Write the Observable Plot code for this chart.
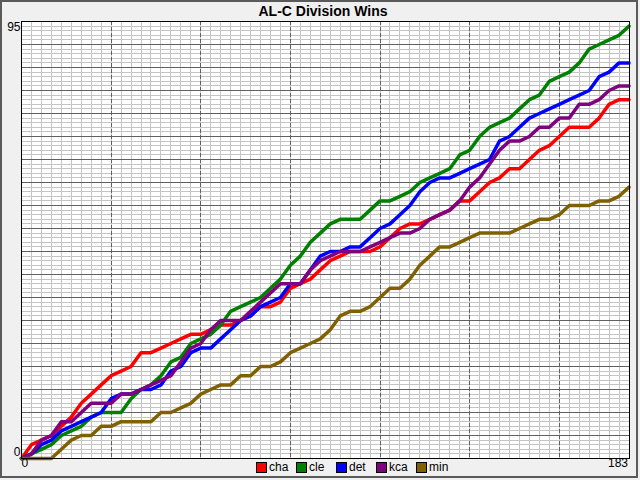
<!DOCTYPE html>
<html><head><meta charset="utf-8">
<script src="https://cdn.jsdelivr.net/npm/d3@7"></script>
<script src="https://cdn.jsdelivr.net/npm/@observablehq/plot@0.6"></script>
<style>
html,body{margin:0;padding:0;background:#f0f0f0;}
#wrap{position:relative;width:640px;height:480px;overflow:hidden;background:#f0f0f0;font-family:"Liberation Sans",Arial,sans-serif;}
#frame{position:absolute;left:0;top:0;width:638px;height:478px;box-sizing:border-box;border:2px solid #5a5a5a;}
#chart{position:absolute;left:0;top:0;}
#title{position:absolute;top:3px;left:0;width:646px;text-align:center;font-weight:bold;font-size:14px;color:#000;}
#legend{position:absolute;top:461px;left:256px;display:flex;font-size:12px;color:#000;}
.item{width:40px;display:flex;align-items:center;height:12px;}
.sw{width:9px;height:9px;border:1px solid #000;margin-right:2px;flex:none;}
</style></head>
<body><div id="wrap"><div id="frame"></div><div id="chart"></div><div id="title">AL-C Division Wins</div><div id="legend"></div></div>
<script>
const days = [0,3,6,9,12,15,18,21,24,27,30,33,36,39,42,45,48,51,54,57,60,63,66,69,72,75,78,81,84,87,90,93,96,99,102,105,108,111,114,117,120,123,126,129,132,135,138,141,144,147,150,153,156,159,162,165,168,171,174,177,180,183];
const teams = ["cha","cle","det","kca","min"];
const colors = ["#ff0000","#008000","#0000ff","#800080","#806000"];
const cha = [0,3,4,5,7,9,12,14,16,18, 19,20,23,23,24,25,26,27,27,28, 29,29,30,31,33,33,34,37,38,39, 41,43,44,45,45,45,46,48,50,51, 51,52,53,54,56,56,58,60,61,63, 63,65,67,68,70,72,72,72,74,77, 78,78];
const cle = [0,1,2,3,5,6,7,9,10,10, 10,13,15,16,18,21,22,25,26,27, 29,32,33,34,35,37,39,42,44,47, 49,51,52,52,52,54,56,56,57,58, 60,61,62,63,66,67,70,72,73,74, 76,78,79,82,83,84,86,89,90,91, 92,94];
const det = [0,1,3,4,6,7,8,9,10,13, 14,14,15,15,16,19,20,23,24,24, 26,28,30,31,33,34,35,38,38,41, 44,45,45,46,46,48,50,51,53,55, 58,60,61,61,62,63,64,65,69,70, 72,74,75,76,77,78,79,80,83,84, 86,86];
const kca = [0,1,4,5,8,8,10,12,12,12, 14,14,15,16,17,18,21,24,25,28, 30,30,30,32,34,36,38,38,38,41, 43,44,45,45,45,46,47,48,49,49, 50,52,53,54,56,59,61,64,67,69, 69,70,72,72,74,74,77,77,78,80, 81,81];
const min = [0,0,0,0,2,4,5,5,7,7, 8,8,8,8,10,10,11,12,14,15, 16,16,18,18,20,20,21,23,24,25, 26,28,31,32,32,33,35,37,37,39, 42,44,46,46,47,48,49,49,49,49, 50,51,52,52,53,55,55,55,56,56, 57,59];
const yTickLabels = [0,95];
const xTickLabels = [0,183];
const xMajor = [27,54,81,108,135,162];
const yMajor = [5,10,15,20,25,30,35,40,45,50,55,60,65,70,75,80,85,90];
const yMinor = d3.range(1,95);

const series = {cha, cle, det, kca, min};
const rows = teams.flatMap(t => days.map((d,i) => ({team:t, day:d, wins:series[t][i]})));

const chart = Plot.plot({
  width: 640, height: 480,
  marginLeft: 21, marginRight: 11.5, marginTop: 21, marginBottom: 22,
  style: {background: "transparent", fontFamily: "'Liberation Sans', Arial, sans-serif", fontSize: "12px", overflow: "visible"},
  x: {domain: [0,183], axis: null},
  y: {domain: [0,95], axis: null},
  color: {domain: teams, range: colors},
  marks: [
    Plot.frame({fill: "white", stroke: "none"}),
    Plot.ruleX(days, {stroke: "#c4c4c4", strokeWidth: 1, shapeRendering: "crispEdges"}),
    Plot.ruleY(yMinor, {stroke: "#c4c4c4", strokeWidth: 1, shapeRendering: "crispEdges"}),
    Plot.ruleY(yMajor, {stroke: "#606060", strokeWidth: 1, shapeRendering: "crispEdges"}),
    Plot.ruleX(xMajor, {stroke: "#606060", strokeWidth: 1, strokeDasharray: "4,2", shapeRendering: "crispEdges"}),
    Plot.line(rows, {x: "day", y: "wins", z: "team", stroke: "team", strokeWidth: 3.5, strokeLinejoin: "round", strokeLinecap: "round"}),
    Plot.frame({stroke: "#000", strokeWidth: 1, shapeRendering: "crispEdges"}),
    Plot.text([yTickLabels[1]], {y: d => d, frameAnchor: "left", textAnchor: "end", dx: -1, dy: 6, fill: "#000"}),
    Plot.text([yTickLabels[0]], {y: d => d, frameAnchor: "left", textAnchor: "end", dx: -1, dy: -6, fill: "#000"}),
    Plot.text([xTickLabels[0]], {x: d => d, frameAnchor: "bottom", textAnchor: "start", dy: 8, fill: "#000"}),
    Plot.text([xTickLabels[1]], {x: d => d, frameAnchor: "bottom", textAnchor: "end", dx: -1, dy: 8, fill: "#000"})
  ]
});
document.getElementById("chart").appendChild(chart);

const legend = document.getElementById("legend");
teams.forEach((t,i) => {
  const it = document.createElement("div"); it.className = "item";
  const sw = document.createElement("div"); sw.className = "sw"; sw.style.background = colors[i];
  const lb = document.createElement("span"); lb.textContent = t;
  it.appendChild(sw); it.appendChild(lb); legend.appendChild(it);
});
</script>
</body></html>
